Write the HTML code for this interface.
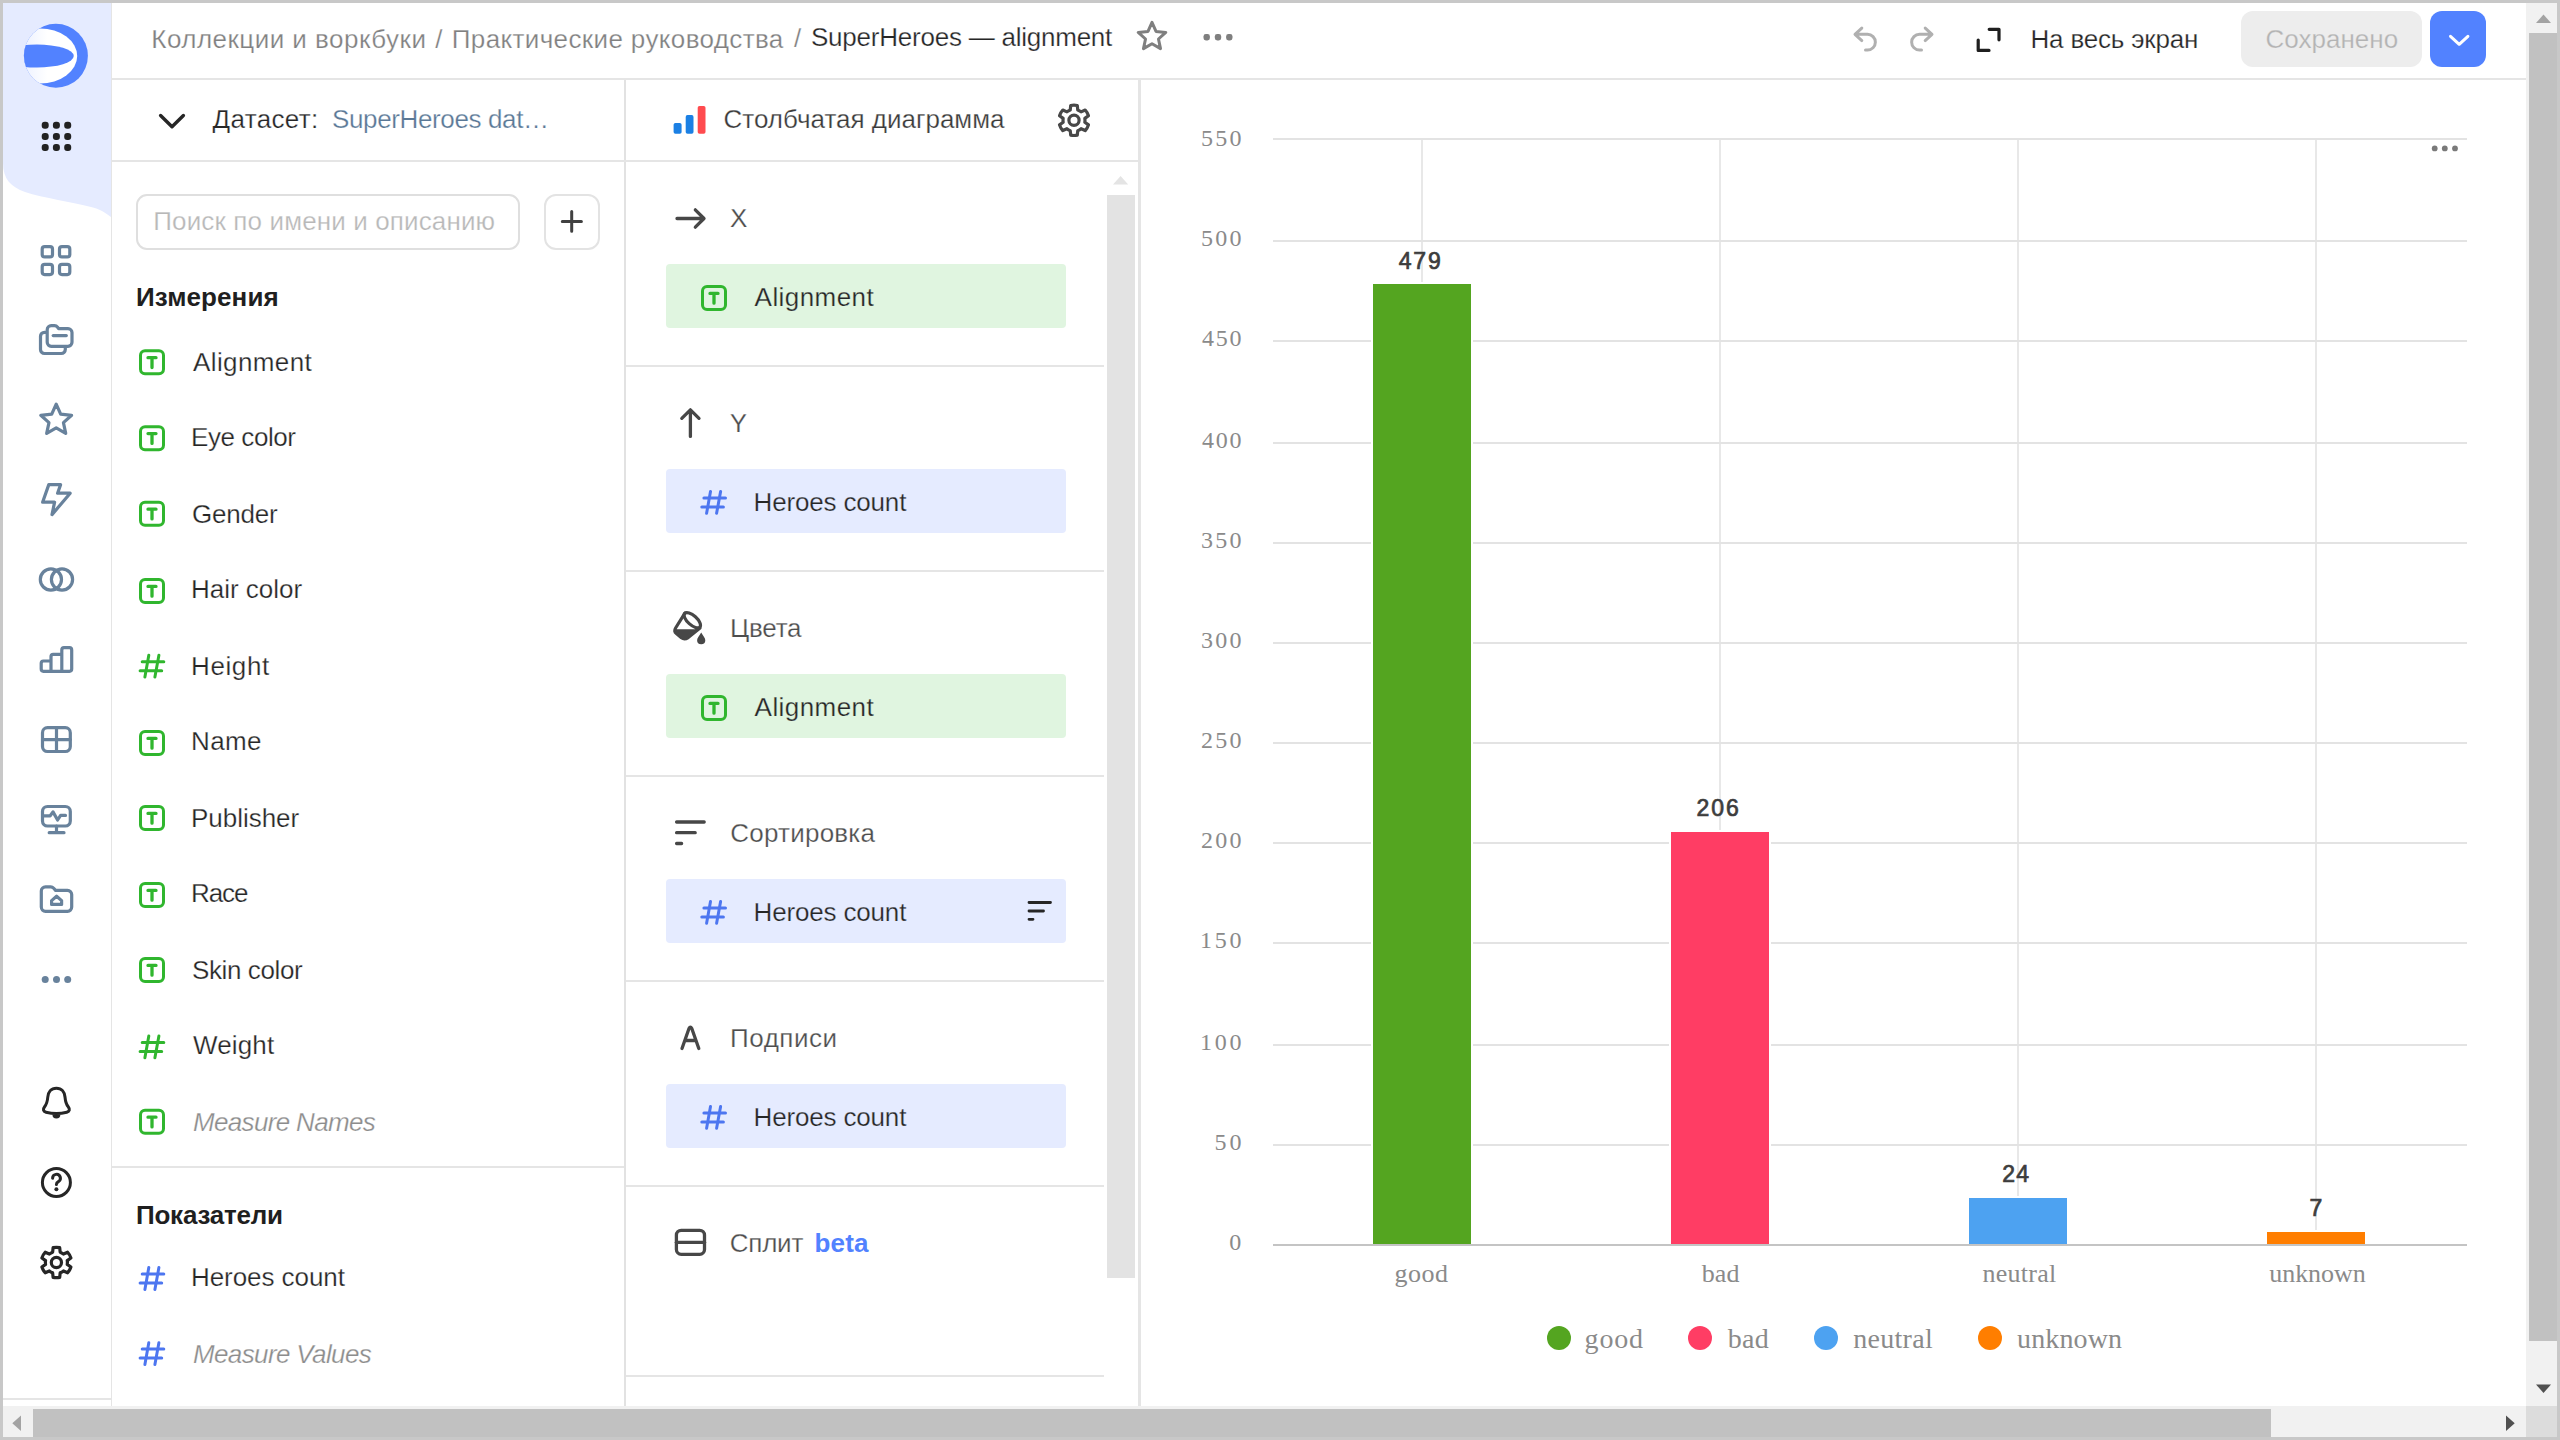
<!DOCTYPE html>
<html lang="ru"><head><meta charset="utf-8"><title>DataLens</title>
<style>
html,body{margin:0;padding:0;}
html{overflow:hidden;background:#fff;}
body{width:2560px;height:1440px;position:relative;overflow:hidden;background:#fff;font-family:"Liberation Sans",sans-serif;}
.a{position:absolute;}
.t{position:absolute;white-space:pre;line-height:1;font-family:"Liberation Sans",sans-serif;}
svg{position:absolute;overflow:visible;}

</style></head>
<body>
<!-- aside -->
<div class="a" style="left:3px;top:3px;width:108px;height:1403px;background:#fff;"></div>
<svg style="left:3px;top:3px" width="108" height="220" viewBox="0 0 108 220"><path d="M0 0H108V214C100 208 96 206 88 204C70 199 40 195 22 189C8 184 0 176 0 160Z" fill="#e5ebff"/></svg>
<div class="a" style="left:111px;top:3px;width:1px;height:1403px;background:rgba(0,0,0,.1);"></div>
<div class="a" style="left:3px;top:1398px;width:108px;height:2px;background:#e5e5e5;"></div>
<!-- header border -->
<div class="a" style="left:112px;top:78px;width:2414px;height:2px;background:#e5e5e5;"></div>
<!-- panel borders -->
<div class="a" style="left:624px;top:80px;width:2px;height:1326px;background:#e2e2e2;"></div>
<div class="a" style="left:1138px;top:80px;width:3px;height:1326px;background:#e5e5e5;"></div>
<div class="a" style="left:112px;top:160px;width:1026px;height:2px;background:#e5e5e5;"></div>
<div class="a" style="left:112px;top:1166px;width:512px;height:2px;background:#e5e5e5;"></div>
<!-- section dividers -->
<div class="a" style="left:626px;top:365px;width:478px;height:2px;background:#e5e5e5;"></div>
<div class="a" style="left:626px;top:570px;width:478px;height:2px;background:#e5e5e5;"></div>
<div class="a" style="left:626px;top:775px;width:478px;height:2px;background:#e5e5e5;"></div>
<div class="a" style="left:626px;top:980px;width:478px;height:2px;background:#e5e5e5;"></div>
<div class="a" style="left:626px;top:1185px;width:478px;height:2px;background:#e5e5e5;"></div>
<div class="a" style="left:626px;top:1375px;width:478px;height:2px;background:#e5e5e5;"></div>
<!-- inner scrollbar -->
<div class="a" style="left:1107px;top:195px;width:28px;height:1083px;background:#e3e3e3;"></div>
<svg style="left:1113.4px;top:175.6px" width="15.2" height="8.4" viewBox="0 0 15.2 8.4"><path d="M0 8.4L7.6 0L15.2 8.4Z" fill="#e4e4e4"/></svg>
<!-- search -->
<div class="a" style="left:136px;top:194px;width:380px;height:52px;border:2px solid #dfdfdf;border-radius:11px;"></div>
<div class="a" style="left:544px;top:194px;width:52px;height:52px;border:2px solid #e3e3e3;border-radius:12px;"></div>
<!-- pills -->
<div class="a" style="left:666px;top:264px;width:400px;height:64px;border-radius:4px;background:#e0f5e0;"></div>
<div class="a" style="left:666px;top:469px;width:400px;height:64px;border-radius:4px;background:#e5ebff;"></div>
<div class="a" style="left:666px;top:674px;width:400px;height:64px;border-radius:4px;background:#e0f5e0;"></div>
<div class="a" style="left:666px;top:879px;width:400px;height:64px;border-radius:4px;background:#e5ebff;"></div>
<div class="a" style="left:666px;top:1084px;width:400px;height:64px;border-radius:4px;background:#e5ebff;"></div>
<!-- header buttons -->
<div class="a" style="left:2241px;top:11px;width:181px;height:56px;border-radius:12px;background:#ededed;"></div>
<div class="a" style="left:2430px;top:11px;width:56px;height:56px;border-radius:12px;background:#5282ff;"></div>
<!-- chart grid -->
<svg style="left:0;top:0" width="2560" height="1440" viewBox="0 0 2560 1440">
<g fill="#e8e8e8">
<rect x="1421" y="139" width="2" height="1106"/><rect x="1719" y="139" width="2" height="1106"/><rect x="2017" y="139" width="2" height="1106"/><rect x="2315" y="139" width="2" height="1106"/>
</g>
<g fill="#e3e3e3">
<rect x="1273" y="138" width="1194" height="2"/><rect x="1273" y="240" width="1194" height="2"/><rect x="1273" y="340" width="1194" height="2"/><rect x="1273" y="442" width="1194" height="2"/><rect x="1273" y="542" width="1194" height="2"/><rect x="1273" y="642" width="1194" height="2"/><rect x="1273" y="742" width="1194" height="2"/><rect x="1273" y="842" width="1194" height="2"/><rect x="1273" y="942" width="1194" height="2"/><rect x="1273" y="1044" width="1194" height="2"/><rect x="1273" y="1144" width="1194" height="2"/>
</g>
<rect x="1273" y="1244" width="1194" height="2" fill="#c4c4c4"/>
<g stroke="#fff" stroke-width="4">
<rect x="1373" y="284" width="98" height="960" fill="#54a520"/>
<rect x="1671" y="832" width="98" height="412" fill="#ff3d64"/>
<rect x="1969" y="1198" width="98" height="46" fill="#4da2f1"/>
<rect x="2267" y="1232" width="98" height="12" fill="#ff7e00"/>
</g>
<rect x="1373" y="284" width="98" height="960" fill="#54a520"/>
<rect x="1671" y="832" width="98" height="412" fill="#ff3d64"/>
<rect x="1969" y="1198" width="98" height="46" fill="#4da2f1"/>
<rect x="2267" y="1232" width="98" height="12" fill="#ff7e00"/>
<rect x="1273" y="1244" width="1194" height="2" fill="#c4c4c4"/>
<circle cx="1559" cy="1338" r="12" fill="#54a520"/><circle cx="1700" cy="1338" r="12" fill="#ff3d64"/><circle cx="1826" cy="1338" r="12" fill="#4da2f1"/><circle cx="1990" cy="1338" r="12" fill="#ff7e00"/>
<g fill="#7a7a7a"><circle cx="2434.7" cy="148.4" r="2.9"/><circle cx="2444.8" cy="148.4" r="2.9"/><circle cx="2455" cy="148.4" r="2.9"/></g>
</svg>
<!-- outer frame + scrollbars -->
<div class="a" style="left:0;top:0;width:2560px;height:3px;background:#c8c8c8;"></div>
<div class="a" style="left:0;top:0;width:3px;height:1440px;background:#c8c8c8;"></div>
<div class="a" style="left:2557px;top:0;width:3px;height:1440px;background:#c8c8c8;"></div>
<div class="a" style="left:0;top:1437px;width:2560px;height:3px;background:#c8c8c8;"></div>
<div class="a" style="left:2526px;top:3px;width:31px;height:1403px;background:#f1f1f1;"></div>
<div class="a" style="left:2529px;top:33px;width:28px;height:1308px;background:#c1c1c1;"></div>
<div class="a" style="left:3px;top:1406px;width:2523px;height:31px;background:#f1f1f1;"></div>
<div class="a" style="left:33px;top:1409px;width:2238px;height:28px;background:#c1c1c1;"></div>
<div class="a" style="left:2526px;top:1406px;width:31px;height:31px;background:#dcdcdc;"></div>
<svg style="left:0;top:0" width="2560" height="1440" viewBox="0 0 2560 1440">
<path d="M2536 1384.5H2551L2543.5 1393Z" fill="#505050"/>
<path d="M2536 23H2551L2543.5 14.5Z" fill="#a3a3a3"/>
<path d="M2506 1415.5V1431L2514.7 1423.2Z" fill="#505050"/>
<path d="M21 1415.5V1431L12.3 1423.2Z" fill="#a3a3a3"/>
</svg>
<svg style="left:0;top:0" width="2560" height="1440" viewBox="0 0 2560 1440">
<rect x="41.7" y="121.8" width="7" height="7" rx="3" fill="#222"/>
<rect x="41.7" y="132.9" width="7" height="7" rx="3" fill="#222"/>
<rect x="41.7" y="144.1" width="7" height="7" rx="3" fill="#222"/>
<rect x="52.9" y="121.8" width="7" height="7" rx="3" fill="#222"/>
<rect x="52.9" y="132.9" width="7" height="7" rx="3" fill="#222"/>
<rect x="52.9" y="144.1" width="7" height="7" rx="3" fill="#222"/>
<rect x="64.2" y="121.8" width="7" height="7" rx="3" fill="#222"/>
<rect x="64.2" y="132.9" width="7" height="7" rx="3" fill="#222"/>
<rect x="64.2" y="144.1" width="7" height="7" rx="3" fill="#222"/>
<rect x="42.2" y="246.6" width="10.3" height="10.3" rx="2.5" fill="none" stroke="#68829c" stroke-width="3.2"/>
<rect x="42.2" y="264.3" width="10.3" height="10.3" rx="2.5" fill="none" stroke="#68829c" stroke-width="3.2"/>
<rect x="59.5" y="246.6" width="10.3" height="10.3" rx="2.5" fill="none" stroke="#68829c" stroke-width="3.2"/>
<rect x="59.5" y="264.3" width="10.3" height="10.3" rx="2.5" fill="none" stroke="#68829c" stroke-width="3.2"/>
<g fill="none" stroke="#68829c" stroke-width="3.2" stroke-linejoin="round" stroke-linecap="round">
<path d="M45.5 332.3H44.5A4 4 0 0 0 40.5 336.3V349.5A4 4 0 0 0 44.5 353.5H61.3A4 4 0 0 0 65.3 349.5V347"/>
<path d="M47.2 329.7A4 4 0 0 1 51.2 325.7H54.5A4 4 0 0 1 57.6 327.2L58.6 328.6H68A4 4 0 0 1 72 332.6V342.3A4 4 0 0 1 68 346.3H51.2A4 4 0 0 1 47.2 342.3Z"/>
<path d="M53.2 335.6H66.3"/>
<path d="M56.20 404.10L60.67 414.15L71.61 415.29L63.43 422.65L65.72 433.41L56.20 427.90L46.68 433.41L48.97 422.65L40.79 415.29L51.73 414.15Z"/>
<path d="M48.8 484.6H60.6L57.6 493.2H70.2L52 514.6L54.6 502.2H42.6Z"/>
<circle cx="50.9" cy="579.5" r="10.6"/><circle cx="62" cy="579.5" r="10.6"/>
<path d="M41.2 663.2A2.2 2.2 0 0 1 43.4 661H51V671.3H43.4A2.2 2.2 0 0 1 41.2 669.1ZM51 656.5A2.2 2.2 0 0 1 53.2 654.3H61.8V671.3H51ZM61.8 649.9A2.2 2.2 0 0 1 64 647.7H69.5A2.2 2.2 0 0 1 71.7 649.9V669.1A2.2 2.2 0 0 1 69.5 671.3H61.8Z"/>
<rect x="42.5" y="727.7" width="27.8" height="23.8" rx="5"/><path d="M56.5 727.7V751.5M42.5 739.6H70.3"/>
<rect x="42.5" y="806.5" width="27.8" height="19.5" rx="5"/><path d="M56.5 826V832.5M49.2 832.7H64M43.5 815.8H50.2L53 811.9L57.6 820L60.6 815.4H65.5"/>
<path d="M41.3 891A4.2 4.2 0 0 1 45.5 886.8H50.6A4.2 4.2 0 0 1 53.7 888.2L55.6 890.4H67.5A4.2 4.2 0 0 1 71.7 894.6V907.1A4.2 4.2 0 0 1 67.5 911.3H45.5A4.2 4.2 0 0 1 41.3 907.1Z"/>
<path d="M51.6 900.6L56.6 896.2L61.6 900.6V904.4H51.6Z"/>
</g>
<circle cx="45.2" cy="979.5" r="3.5" fill="#68829c"/>
<circle cx="56.5" cy="979.5" r="3.5" fill="#68829c"/>
<circle cx="67.7" cy="979.5" r="3.5" fill="#68829c"/>
<g fill="none" stroke="#262626" stroke-width="3" stroke-linejoin="round" stroke-linecap="round">
<path d="M56.4 1088.2C51 1088.2 48.2 1092.2 47.8 1097C47.4 1101.5 46.6 1104.3 44.6 1106.8C42.6 1109.3 43.2 1111.5 46 1112.2C52 1113.6 60.8 1113.6 66.8 1112.2C69.6 1111.5 70.2 1109.3 68.2 1106.8C66.2 1104.3 65.4 1101.5 65 1097C64.6 1092.2 61.8 1088.2 56.4 1088.2Z"/>
</g>
<path d="M52.4 1114.5H60.4A4 4 0 0 1 52.4 1114.5Z" fill="#262626"/>
<circle cx="56.4" cy="1182.5" r="14" fill="none" stroke="#262626" stroke-width="3"/>
<path d="M52.6 1178.3A3.9 3.9 0 1 1 58.4 1181.6C57 1182.4 56.4 1183 56.4 1184.6" fill="none" stroke="#262626" stroke-width="3" stroke-linecap="round"/>
<circle cx="56.4" cy="1189.3" r="2" fill="#262626"/>
<path d="M52.64 1252.16L53.11 1247.66A15.20 15.20 0 0 1 59.69 1247.66L60.16 1252.16A11.00 11.00 0 0 1 63.47 1254.07L67.61 1252.23A15.20 15.20 0 0 1 70.90 1257.93L67.23 1260.59A11.00 11.00 0 0 1 67.23 1264.41L70.90 1267.07A15.20 15.20 0 0 1 67.61 1272.77L63.47 1270.93A11.00 11.00 0 0 1 60.16 1272.84L59.69 1277.34A15.20 15.20 0 0 1 53.11 1277.34L52.64 1272.84A11.00 11.00 0 0 1 49.33 1270.93L45.19 1272.77A15.20 15.20 0 0 1 41.90 1267.07L45.57 1264.41A11.00 11.00 0 0 1 45.57 1260.59L41.90 1257.93A15.20 15.20 0 0 1 45.19 1252.23L49.33 1254.07A11.00 11.00 0 0 1 52.64 1252.16Z" fill="none" stroke="#262626" stroke-width="3.2" stroke-linejoin="round"/>
<circle cx="56.40" cy="1262.50" r="5.10" fill="none" stroke="#262626" stroke-width="3.2"/>
<path d="M1070.24 109.96L1070.71 105.46A15.20 15.20 0 0 1 1077.29 105.46L1077.76 109.96A11.00 11.00 0 0 1 1081.07 111.87L1085.21 110.03A15.20 15.20 0 0 1 1088.50 115.73L1084.83 118.39A11.00 11.00 0 0 1 1084.83 122.21L1088.50 124.87A15.20 15.20 0 0 1 1085.21 130.57L1081.07 128.73A11.00 11.00 0 0 1 1077.76 130.64L1077.29 135.14A15.20 15.20 0 0 1 1070.71 135.14L1070.24 130.64A11.00 11.00 0 0 1 1066.93 128.73L1062.79 130.57A15.20 15.20 0 0 1 1059.50 124.87L1063.17 122.21A11.00 11.00 0 0 1 1063.17 118.39L1059.50 115.73A15.20 15.20 0 0 1 1062.79 110.03L1066.93 111.87A11.00 11.00 0 0 1 1070.24 109.96Z" fill="none" stroke="#484848" stroke-width="3.2" stroke-linejoin="round"/>
<circle cx="1074.00" cy="120.30" r="5.10" fill="none" stroke="#484848" stroke-width="3.2"/>
<g transform="translate(139.00 349.30)" fill="none" stroke="#30b62e"><rect x="1.5" y="1.5" width="23" height="23" rx="4.5" stroke-width="3"/><path d="M9 8.4H17M13 8.4V18.2" stroke-width="3.3" stroke-linecap="round"/></g>
<g transform="translate(139.00 425.20)" fill="none" stroke="#30b62e"><rect x="1.5" y="1.5" width="23" height="23" rx="4.5" stroke-width="3"/><path d="M9 8.4H17M13 8.4V18.2" stroke-width="3.3" stroke-linecap="round"/></g>
<g transform="translate(139.00 500.75)" fill="none" stroke="#30b62e"><rect x="1.5" y="1.5" width="23" height="23" rx="4.5" stroke-width="3"/><path d="M9 8.4H17M13 8.4V18.2" stroke-width="3.3" stroke-linecap="round"/></g>
<g transform="translate(139.00 578.00)" fill="none" stroke="#30b62e"><rect x="1.5" y="1.5" width="23" height="23" rx="4.5" stroke-width="3"/><path d="M9 8.4H17M13 8.4V18.2" stroke-width="3.3" stroke-linecap="round"/></g>
<path transform="translate(139.00 653.75)" d="M9.8 1.5L5.9 23.3M19.9 1.5L15.9 23.3M3.2 7.9H24.8M1.1 16.9H22.7" fill="none" stroke="#30b62e" stroke-width="3" stroke-linecap="round"/>
<g transform="translate(139.00 730.00)" fill="none" stroke="#30b62e"><rect x="1.5" y="1.5" width="23" height="23" rx="4.5" stroke-width="3"/><path d="M9 8.4H17M13 8.4V18.2" stroke-width="3.3" stroke-linecap="round"/></g>
<g transform="translate(139.00 805.00)" fill="none" stroke="#30b62e"><rect x="1.5" y="1.5" width="23" height="23" rx="4.5" stroke-width="3"/><path d="M9 8.4H17M13 8.4V18.2" stroke-width="3.3" stroke-linecap="round"/></g>
<g transform="translate(139.00 882.00)" fill="none" stroke="#30b62e"><rect x="1.5" y="1.5" width="23" height="23" rx="4.5" stroke-width="3"/><path d="M9 8.4H17M13 8.4V18.2" stroke-width="3.3" stroke-linecap="round"/></g>
<g transform="translate(139.00 957.00)" fill="none" stroke="#30b62e"><rect x="1.5" y="1.5" width="23" height="23" rx="4.5" stroke-width="3"/><path d="M9 8.4H17M13 8.4V18.2" stroke-width="3.3" stroke-linecap="round"/></g>
<path transform="translate(139.00 1034.50)" d="M9.8 1.5L5.9 23.3M19.9 1.5L15.9 23.3M3.2 7.9H24.8M1.1 16.9H22.7" fill="none" stroke="#30b62e" stroke-width="3" stroke-linecap="round"/>
<g transform="translate(139.00 1108.75)" fill="none" stroke="#30b62e"><rect x="1.5" y="1.5" width="23" height="23" rx="4.5" stroke-width="3"/><path d="M9 8.4H17M13 8.4V18.2" stroke-width="3.3" stroke-linecap="round"/></g>
<path transform="translate(139.00 1266.10)" d="M9.8 1.5L5.9 23.3M19.9 1.5L15.9 23.3M3.2 7.9H24.8M1.1 16.9H22.7" fill="none" stroke="#4d76f0" stroke-width="3" stroke-linecap="round"/>
<path transform="translate(139.00 1341.20)" d="M9.8 1.5L5.9 23.3M19.9 1.5L15.9 23.3M3.2 7.9H24.8M1.1 16.9H22.7" fill="none" stroke="#4d76f0" stroke-width="3" stroke-linecap="round"/>
<g transform="translate(701.00 285.00)" fill="none" stroke="#30b62e"><rect x="1.5" y="1.5" width="23" height="23" rx="4.5" stroke-width="3"/><path d="M9 8.4H17M13 8.4V18.2" stroke-width="3.3" stroke-linecap="round"/></g>
<path transform="translate(700.70 490.00)" d="M9.8 1.5L5.9 23.3M19.9 1.5L15.9 23.3M3.2 7.9H24.8M1.1 16.9H22.7" fill="none" stroke="#4d76f0" stroke-width="3" stroke-linecap="round"/>
<g transform="translate(701.00 695.00)" fill="none" stroke="#30b62e"><rect x="1.5" y="1.5" width="23" height="23" rx="4.5" stroke-width="3"/><path d="M9 8.4H17M13 8.4V18.2" stroke-width="3.3" stroke-linecap="round"/></g>
<path transform="translate(700.70 900.00)" d="M9.8 1.5L5.9 23.3M19.9 1.5L15.9 23.3M3.2 7.9H24.8M1.1 16.9H22.7" fill="none" stroke="#4d76f0" stroke-width="3" stroke-linecap="round"/>
<path transform="translate(700.70 1105.00)" d="M9.8 1.5L5.9 23.3M19.9 1.5L15.9 23.3M3.2 7.9H24.8M1.1 16.9H22.7" fill="none" stroke="#4d76f0" stroke-width="3" stroke-linecap="round"/>
</svg>
<svg style="left:0;top:0" width="2560" height="1440" viewBox="0 0 2560 1440">
<defs><clipPath id="lc"><circle cx="55.9" cy="55.8" r="32"/></clipPath><linearGradient id="lg" x1="0" x2="1" y1="0" y2="0"><stop offset="0" stop-color="#dde6ff"/><stop offset=".6" stop-color="#fff"/></linearGradient></defs>
<!-- logo -->
<circle cx="55.9" cy="55.8" r="32" fill="#5282ff"/>
<g clip-path="url(#lc)"><ellipse cx="40" cy="56" rx="37.2" ry="27.5" fill="url(#lg)"/><ellipse cx="37" cy="56" rx="36.75" ry="11.5" fill="#5282ff"/></g>
<!-- header star + dots -->
<path d="M1152 22.4L1156 31.4L1165.79 32.42L1158.47 39L1160.52 48.63L1152 43.7L1143.48 48.63L1145.53 39L1138.21 32.42L1148 31.4Z" fill="none" stroke="#7f7f7f" stroke-width="3" stroke-linejoin="round"/>
<g fill="#7f7f7f"><rect x="1203.5" y="34" width="6.4" height="6.4" rx="2.4"/><rect x="1214.8" y="34" width="6.4" height="6.4" rx="2.4"/><rect x="1226.1" y="34" width="6.4" height="6.4" rx="2.4"/></g>
<!-- undo / redo -->
<g fill="none" stroke="#b0b0b0" stroke-width="3" stroke-linecap="round" stroke-linejoin="round">
<path d="M1861.8 28.1L1855 34.3L1861.8 40.6M1855.4 34.3H1867.5A7.85 7.85 0 0 1 1867.5 50H1865.5"/>
<path d="M1925.2 28.1L1932 34.3L1925.2 40.6M1931.6 34.3H1919.5A7.85 7.85 0 0 0 1919.5 50H1921.5"/>
</g>
<!-- fullscreen -->
<path d="M1989.2 29.3H1999V39.8M1978.2 40V50.4H1989" fill="none" stroke="#1f1f1f" stroke-width="3.2" stroke-linecap="round" stroke-linejoin="round"/>
<!-- blue button chevron -->
<path d="M2450.5 36.3L2459.2 44.3L2467.9 36.3" fill="none" stroke="#fff" stroke-width="3" stroke-linecap="round" stroke-linejoin="round"/>
<!-- dataset chevron -->
<path d="M160.6 115.5L172 126.8L183.4 115.5" fill="none" stroke="#262626" stroke-width="3.4" stroke-linecap="round" stroke-linejoin="round"/>
<!-- chart type icon -->
<rect x="673.6" y="123" width="8" height="10.8" rx="1.8" fill="#1b80e4"/><rect x="685.7" y="115.1" width="7.8" height="18.7" rx="1.8" fill="#1b80e4"/><rect x="697.7" y="105.9" width="7.8" height="27.9" rx="1.8" fill="#ff4b4f"/>
<!-- plus -->
<path d="M571.7 211.5V231.2M562.3 221.4H581.4" fill="none" stroke="#404040" stroke-width="3" stroke-linecap="round"/>
<g fill="none" stroke="#474747" stroke-width="3.3" stroke-linecap="round" stroke-linejoin="round">
<!-- arrow right -->
<path d="M677 218.5H703.5M695.3 209.8L704 218.5L695.3 227.2"/>
<!-- arrow up -->
<path d="M690.4 410V436.4M681.8 418.3L690.4 409.8L699 418.3"/>
<!-- sort -->
<path d="M676.6 822H704.2M676.6 832.7H695.2M676.6 843.5H681.6"/>
<!-- A -->
<path d="M682 1048.5L689 1028.5Q690.4 1025.6 691.8 1028.5L698.8 1048.5M685 1040.5H695.8"/>
<!-- split -->
<rect x="676.4" y="1230.3" width="28.1" height="24" rx="4.8"/><path d="M676.4 1242.3H704.5"/>
<!-- bucket -->
<ellipse cx="692.3" cy="620.2" rx="10.2" ry="4.6" transform="rotate(42 692.3 620.2)" stroke-width="3.2"/>
<path d="M684.9 613.2L675.6 628Q673.6 631.2 676.4 633.6L681.4 637.8Q684.4 640 688.2 637.6L700 628" stroke-width="3.2"/>
</g>
<path d="M675.3 629.3H695L700 627.6L688.2 637.6Q684.4 640 681.4 637.8L676.4 633.6Q674 631.5 675.3 629.3Z" fill="#474747"/>
<path d="M701.2 632.4C703 635.5 705.3 638 705.3 640.2A4.1 4.1 0 0 1 697.1 640.2C697.1 638 699.4 635.5 701.2 632.4Z" fill="#474747"/>
<!-- sort in pill -->
<path d="M1029 902.5H1050.5M1029 911H1043.5M1029 919.3H1033" fill="none" stroke="#262626" stroke-width="2.8" stroke-linecap="round"/>
</svg>

<span class="t" style="left:151.30px;top:26px;font-size:26px;color:#808080;letter-spacing:0.47px;-webkit-text-stroke:0.25px #fff;">Коллекции и воркбуки</span>
<span class="t" style="left:435.25px;top:26px;font-size:26px;color:#808080;-webkit-text-stroke:0.25px #fff;">/</span>
<span class="t" style="left:451.75px;top:26px;font-size:26px;color:#808080;letter-spacing:0.37px;-webkit-text-stroke:0.25px #fff;">Практические руководства</span>
<span class="t" style="left:794.05px;top:25px;font-size:26px;color:#808080;-webkit-text-stroke:0.25px #fff;">/</span>
<span class="t" style="left:811.00px;top:24px;font-size:26px;color:#262626;letter-spacing:-0.23px;-webkit-text-stroke:0.25px #fff;">SuperHeroes — alignment</span>
<span class="t" style="left:2030.50px;top:26px;font-size:26px;color:#262626;letter-spacing:-0.19px;-webkit-text-stroke:0.25px #fff;">На весь экран</span>
<span class="t" style="left:2265.60px;top:26px;font-size:26px;color:#b3b3b3;-webkit-text-stroke:0.25px #ededed;">Сохранено</span>
<span class="t" style="left:212.50px;top:106px;font-size:26px;color:#262626;letter-spacing:0.35px;-webkit-text-stroke:0.25px #fff;">Датасет:</span>
<span class="t" style="left:332.00px;top:106px;font-size:26px;color:#5a7896;letter-spacing:-0.37px;-webkit-text-stroke:0.25px #fff;">SuperHeroes dat…</span>
<span class="t" style="left:723.50px;top:106px;font-size:26px;color:#3a3a3a;-webkit-text-stroke:0.25px #fff;">Столбчатая диаграмма</span>
<span class="t" style="left:153.30px;top:208px;font-size:26px;color:#b8b8b8;letter-spacing:0.13px;-webkit-text-stroke:0.25px #fff;">Поиск по имени и описанию</span>
<span class="t" style="left:136.00px;top:284px;font-size:26px;color:#1f1f1f;letter-spacing:0.10px;font-weight:700;">Измерения</span>
<span class="t" style="left:193.00px;top:349px;font-size:26px;color:#262626;letter-spacing:0.39px;-webkit-text-stroke:0.25px #fff;">Alignment</span>
<span class="t" style="left:191.00px;top:424px;font-size:26px;color:#262626;letter-spacing:-0.43px;-webkit-text-stroke:0.25px #fff;">Eye color</span>
<span class="t" style="left:192.00px;top:501px;font-size:26px;color:#262626;letter-spacing:-0.21px;-webkit-text-stroke:0.25px #fff;">Gender</span>
<span class="t" style="left:191.00px;top:576px;font-size:26px;color:#262626;letter-spacing:-0.01px;-webkit-text-stroke:0.25px #fff;">Hair color</span>
<span class="t" style="left:191.00px;top:653px;font-size:26px;color:#262626;letter-spacing:0.61px;-webkit-text-stroke:0.25px #fff;">Height</span>
<span class="t" style="left:191.00px;top:728px;font-size:26px;color:#262626;letter-spacing:0.37px;-webkit-text-stroke:0.25px #fff;">Name</span>
<span class="t" style="left:191.00px;top:805px;font-size:26px;color:#262626;letter-spacing:-0.03px;-webkit-text-stroke:0.25px #fff;">Publisher</span>
<span class="t" style="left:191.00px;top:880px;font-size:26px;color:#262626;letter-spacing:-1.08px;-webkit-text-stroke:0.25px #fff;">Race</span>
<span class="t" style="left:192.00px;top:957px;font-size:26px;color:#262626;letter-spacing:-0.39px;-webkit-text-stroke:0.25px #fff;">Skin color</span>
<span class="t" style="left:193.00px;top:1032px;font-size:26px;color:#262626;letter-spacing:0.15px;-webkit-text-stroke:0.25px #fff;">Weight</span>
<span class="t" style="left:193.00px;top:1109px;font-size:26px;color:#8c8c8c;letter-spacing:-0.67px;font-style:italic;-webkit-text-stroke:0.25px #fff;">Measure Names</span>
<span class="t" style="left:136.00px;top:1202px;font-size:26px;color:#1f1f1f;letter-spacing:-0.23px;font-weight:700;">Показатели</span>
<span class="t" style="left:191.00px;top:1264px;font-size:26px;color:#262626;letter-spacing:-0.06px;-webkit-text-stroke:0.25px #fff;">Heroes count</span>
<span class="t" style="left:193.00px;top:1341px;font-size:26px;color:#8c8c8c;letter-spacing:-0.63px;font-style:italic;-webkit-text-stroke:0.25px #fff;">Measure Values</span>
<span class="t" style="left:729.88px;top:205px;font-size:26px;color:#4d4d4d;-webkit-text-stroke:0.25px #fff;">X</span>
<span class="t" style="left:754.60px;top:284px;font-size:26px;color:#262626;letter-spacing:0.44px;-webkit-text-stroke:0.25px #e0f5e0;">Alignment</span>
<span class="t" style="left:729.65px;top:410px;font-size:26px;color:#4d4d4d;-webkit-text-stroke:0.25px #fff;">Y</span>
<span class="t" style="left:753.60px;top:489px;font-size:26px;color:#262626;letter-spacing:-0.17px;-webkit-text-stroke:0.25px #e5ebff;">Heroes count</span>
<span class="t" style="left:730.00px;top:615px;font-size:26px;color:#4d4d4d;letter-spacing:-0.24px;-webkit-text-stroke:0.25px #fff;">Цвета</span>
<span class="t" style="left:754.60px;top:694px;font-size:26px;color:#262626;letter-spacing:0.44px;-webkit-text-stroke:0.25px #e0f5e0;">Alignment</span>
<span class="t" style="left:730.30px;top:820px;font-size:26px;color:#4d4d4d;letter-spacing:0.22px;-webkit-text-stroke:0.25px #fff;">Сортировка</span>
<span class="t" style="left:753.60px;top:899px;font-size:26px;color:#262626;letter-spacing:-0.17px;-webkit-text-stroke:0.25px #e5ebff;">Heroes count</span>
<span class="t" style="left:730.00px;top:1025px;font-size:26px;color:#4d4d4d;letter-spacing:0.53px;-webkit-text-stroke:0.25px #fff;">Подписи</span>
<span class="t" style="left:753.60px;top:1104px;font-size:26px;color:#262626;letter-spacing:-0.17px;-webkit-text-stroke:0.25px #e5ebff;">Heroes count</span>
<span class="t" style="left:729.80px;top:1230px;font-size:26px;color:#4d4d4d;letter-spacing:-0.24px;-webkit-text-stroke:0.25px #fff;">Сплит</span>
<span class="t" style="left:814.60px;top:1230px;font-size:26px;color:#5282ff;letter-spacing:0.13px;font-weight:700;">beta</span>
<span class="t" style="left:1201.00px;top:126px;font-size:24px;color:#8a8a8a;letter-spacing:2.25px;font-family:'Liberation Serif', serif;">550</span>
<span class="t" style="left:1201.00px;top:226px;font-size:24px;color:#8a8a8a;letter-spacing:2.25px;font-family:'Liberation Serif', serif;">500</span>
<span class="t" style="left:1202.00px;top:326px;font-size:24px;color:#8a8a8a;letter-spacing:1.75px;font-family:'Liberation Serif', serif;">450</span>
<span class="t" style="left:1202.00px;top:428px;font-size:24px;color:#8a8a8a;letter-spacing:1.75px;font-family:'Liberation Serif', serif;">400</span>
<span class="t" style="left:1201.00px;top:528px;font-size:24px;color:#8a8a8a;letter-spacing:2.25px;font-family:'Liberation Serif', serif;">350</span>
<span class="t" style="left:1201.00px;top:628px;font-size:24px;color:#8a8a8a;letter-spacing:2.25px;font-family:'Liberation Serif', serif;">300</span>
<span class="t" style="left:1201.00px;top:728px;font-size:24px;color:#8a8a8a;letter-spacing:2.25px;font-family:'Liberation Serif', serif;">250</span>
<span class="t" style="left:1201.00px;top:828px;font-size:24px;color:#8a8a8a;letter-spacing:2.25px;font-family:'Liberation Serif', serif;">200</span>
<span class="t" style="left:1200.00px;top:928px;font-size:24px;color:#8a8a8a;letter-spacing:2.75px;font-family:'Liberation Serif', serif;">150</span>
<span class="t" style="left:1200.00px;top:1030px;font-size:24px;color:#8a8a8a;letter-spacing:2.75px;font-family:'Liberation Serif', serif;">100</span>
<span class="t" style="left:1214.50px;top:1130px;font-size:24px;color:#8a8a8a;letter-spacing:3.00px;font-family:'Liberation Serif', serif;">50</span>
<span class="t" style="left:1229.25px;top:1230px;font-size:24px;color:#8a8a8a;font-family:'Liberation Serif', serif;">0</span>
<span class="t" style="left:1394.45px;top:1261px;font-size:26px;color:#8a8a8a;letter-spacing:0.50px;font-family:'Liberation Serif', serif;">good</span>
<span class="t" style="left:1701.75px;top:1261px;font-size:26px;color:#8a8a8a;letter-spacing:0.08px;font-family:'Liberation Serif', serif;">bad</span>
<span class="t" style="left:1982.60px;top:1261px;font-size:26px;color:#8a8a8a;letter-spacing:0.24px;font-family:'Liberation Serif', serif;">neutral</span>
<span class="t" style="left:2269.25px;top:1261px;font-size:26px;color:#8a8a8a;letter-spacing:-0.05px;font-family:'Liberation Serif', serif;">unknown</span>
<span class="t" style="left:1584.60px;top:1325px;font-size:28px;color:#8a8a8a;letter-spacing:0.80px;font-family:'Liberation Serif', serif;">good</span>
<span class="t" style="left:1727.80px;top:1325px;font-size:28px;color:#8a8a8a;letter-spacing:0.29px;font-family:'Liberation Serif', serif;">bad</span>
<span class="t" style="left:1853.30px;top:1325px;font-size:28px;color:#8a8a8a;letter-spacing:0.27px;font-family:'Liberation Serif', serif;">neutral</span>
<span class="t" style="left:2017.00px;top:1325px;font-size:28px;color:#8a8a8a;letter-spacing:0.13px;font-family:'Liberation Serif', serif;">unknown</span>
<span class="t" style="left:1398.75px;top:250px;font-size:23px;color:#3d3d3d;letter-spacing:1.83px;-webkit-text-stroke:0.7px #3d3d3d;">479</span>
<span class="t" style="left:1696.50px;top:797px;font-size:23px;color:#3d3d3d;letter-spacing:1.96px;-webkit-text-stroke:0.7px #3d3d3d;">206</span>
<span class="t" style="left:2002.25px;top:1163px;font-size:23px;color:#3d3d3d;letter-spacing:1.21px;-webkit-text-stroke:0.7px #3d3d3d;">24</span>
<span class="t" style="left:2309.38px;top:1197px;font-size:23px;color:#3d3d3d;-webkit-text-stroke:0.7px #3d3d3d;">7</span>
<script>(function(){var w=window.innerWidth;if(w&&Math.abs(w-2560)>1){var b=document.body;b.style.transformOrigin="0 0";b.style.transform="scale("+(w/2560)+")";}})();</script>
</body></html>
